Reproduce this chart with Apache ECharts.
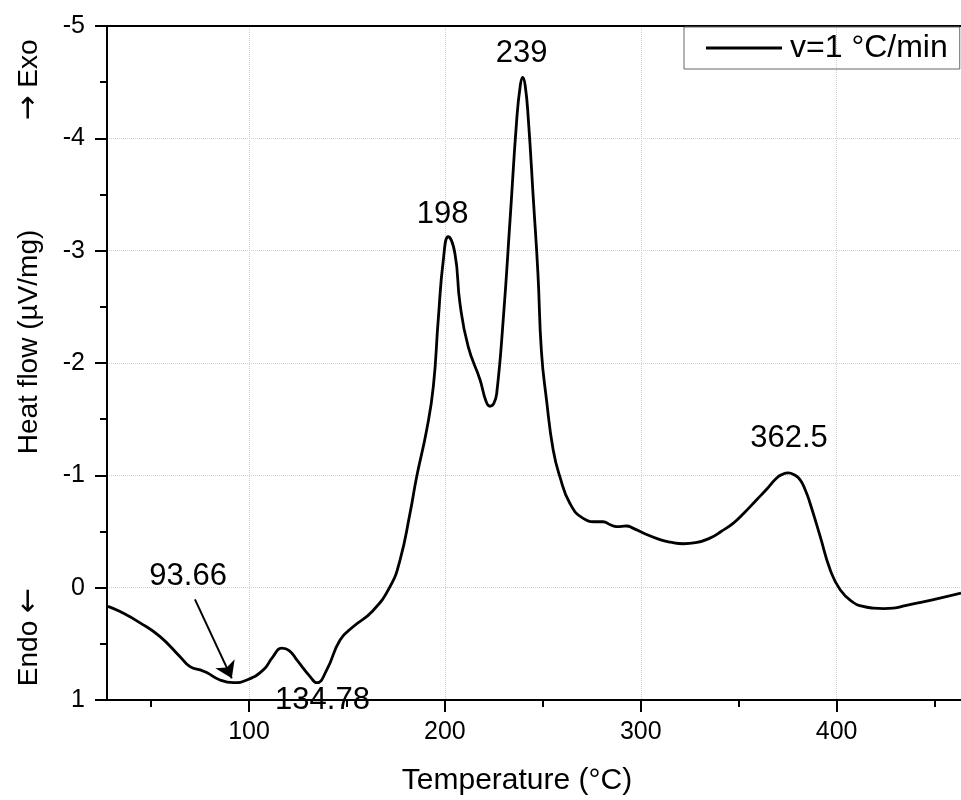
<!DOCTYPE html>
<html>
<head>
<meta charset="utf-8">
<script src="https://cdn.jsdelivr.net/npm/echarts@6.0.0/dist/echarts.min.js"></script>
<style>
  html, body { margin: 0; padding: 0; background: #fff; }
  #chart { width: 961px; height: 800px; }
</style>
</head>
<body>
<div id="chart"></div>
<script>
// DSC curve
const temperature = [
  28.0, 34.2, 44.4, 54.6, 64.8, 69.9, 75.0, 78.4, 85.2, 92.0,
  98.9, 107.3, 112.0, 116.7, 120.5, 124.4, 131.2, 134.6, 139.7, 146.5,
  153.3, 163.0, 172.0, 177.1, 182.2, 185.6, 190.7, 194.1, 196.6, 199.2,
  201.7, 205.1, 207.7, 211.9, 217.9, 221.0, 223.0, 225.0, 226.5, 229.8,
  233.3, 236.7, 238.5, 239.7, 241.0, 242.6, 245.2, 247.5, 249.3, 251.9,
  255.3, 258.7, 263.8, 270.6, 277.5, 280.8, 284.5, 287.7, 290.0, 292.8,
  296.0, 301.3, 309.8, 315.0, 321.7, 328.0, 335.3, 341.0, 347.3, 353.0,
  359.2, 364.5, 369.4, 372.5, 375.3, 378.3, 381.3, 384.0, 386.4, 391.6,
  396.7, 401.8, 408.5, 413.0, 418.7, 424.0, 429.0, 435.0, 440.9, 452.7,
  463.5
];
const heatFlow = [
  0.166, 0.213, 0.313, 0.436, 0.614, 0.703, 0.732, 0.756, 0.822, 0.846,
  0.822, 0.732, 0.62, 0.539, 0.56, 0.643, 0.792, 0.846, 0.732, 0.465,
  0.346, 0.21, -0.009, -0.246, -0.662, -0.988, -1.404, -1.789, -2.383, -2.917,
  -3.124, -2.977, -2.531, -2.145, -1.853, -1.66, -1.615, -1.64, -1.735, -2.388,
  -3.28, -4.171, -4.47, -4.543, -4.47, -4.171, -3.45, -2.8, -2.1, -1.67,
  -1.225, -0.988, -0.751, -0.617, -0.587, -0.587, -0.56, -0.543, -0.545, -0.549,
  -0.53, -0.486, -0.427, -0.405, -0.391, -0.40, -0.441, -0.5, -0.575, -0.67,
  -0.783, -0.88, -0.977, -1.01, -1.021, -1.005, -0.962, -0.87, -0.754, -0.457,
  -0.16, 0.018, 0.132, 0.165, 0.182, 0.186, 0.182, 0.16, 0.138, 0.093,
  0.048
];

const xTicks = [100, 200, 300, 400];
const xMinorTicks = [50, 150, 250, 350, 450];

// peak annotations (text anchor in data space)
const peakText = ['93.66', '134.78', '198', '239', '362.5'];
const peakTextT = [68.9, 137.5, 198.8, 239.2, 375.7];
const peakTextV = [-0.10, 1.0, -3.32, -4.76, -1.33];
const arrowFrom = [72.4, 0.104];
const arrowTo = [91.2, 0.807];

const seriesName = 'v=1 °C/min';
const font = "'Liberation Sans', Arial, sans-serif";

const chart = echarts.init(document.getElementById('chart'));

const curve = temperature.map((t, i) => [t, heatFlow[i]]);
const labels = peakText.map((s, i) => [peakTextT[i], peakTextV[i], s]);

const dotted = { show: true, lineStyle: { type: 'dotted', color: '#cfcfcf', width: 1 } };

// rotated y-axis texts, arrows taken from DejaVu so they are full size
function sideText(text, y) {
  return {
    type: 'text', x: 29, y: y, rotation: Math.PI / 2,
    style: {
      text: text, fontSize: 28, fontFamily: font, fill: '#000',
      textAlign: 'center', textVerticalAlign: 'middle',
      rich: { arr: { fontFamily: "'DejaVu Sans'", fontSize: 30, fill: '#000' } }
    }
  };
}

chart.setOption({
  animation: false,
  textStyle: { fontFamily: font, color: '#000' },
  grid: { left: 107, right: 0, top: 26, bottom: 100 },
  legend: {
    data: [{ name: seriesName, icon: 'rect' }],
    left: 684,
    top: 27,
    padding: [5, 12, 5, 22],
    itemWidth: 76,
    itemHeight: 3,
    borderColor: '#666',
    borderWidth: 1,
    textStyle: { fontSize: 32, lineHeight: 32, color: '#000', fontFamily: font, padding: [0, 0, 0, 3] }
  },
  xAxis: [
    {
      type: 'value',
      min: 27.5,
      max: 463.5,
      axisLine: { onZero: false, lineStyle: { color: '#000', width: 2 } },
      axisTick: { customValues: xTicks, length: 12, lineStyle: { color: '#000', width: 2 } },
      axisLabel: { customValues: xTicks, fontSize: 25, color: '#000', margin: 20, fontFamily: font },
      splitLine: dotted
    },
    {
      type: 'value',
      min: 27.5,
      max: 463.5,
      position: 'bottom',
      axisLine: { show: false, onZero: false },
      axisTick: { customValues: xMinorTicks, length: 7, lineStyle: { color: '#000', width: 2 } },
      axisLabel: { show: false },
      splitLine: { show: false }
    },
    {
      type: 'value',
      min: 27.5,
      max: 463.5,
      position: 'top',
      axisLine: { onZero: false, lineStyle: { color: '#000', width: 2 } },
      axisTick: { show: false },
      axisLabel: { show: false },
      splitLine: { show: false }
    }
  ],
  yAxis: {
    type: 'value',
    inverse: true,
    min: -5,
    max: 1,
    interval: 1,
    axisLine: { show: true, onZero: false, lineStyle: { color: '#000', width: 2 } },
    axisTick: { show: true, length: 12, lineStyle: { color: '#000', width: 2 } },
    minorTick: { show: true, splitNumber: 2, length: 7, lineStyle: { color: '#000', width: 2 } },
    axisLabel: { fontSize: 25, color: '#000', margin: 22, fontFamily: font },
    splitLine: dotted
  },
  graphic: [
    sideText('{arr|→} Exo', 80),
    sideText('Heat flow (µV/mg)', 342),
    sideText('Endo {arr|←}', 637),
    { type: 'text', x: 517, y: 781,
      style: { text: 'Temperature (°C)', fontSize: 30, fontFamily: font, fill: '#000', textAlign: 'center', textVerticalAlign: 'middle' } }
  ],
  series: [
    {
      name: seriesName,
      type: 'line',
      data: curve,
      symbol: 'none',
      smooth: 0.5,
      lineStyle: { color: '#000', width: 2.8 },
      itemStyle: { color: '#000' },
      z: 3
    },
    {
      name: 'peaks',
      type: 'scatter',
      data: labels,
      symbolSize: 1,
      itemStyle: { color: 'transparent', opacity: 1 },
      silent: true,
      z: 5,
      label: {
        show: true,
        position: 'inside',
        formatter: p => p.data[2],
        fontSize: 31,
        color: '#000',
        fontFamily: font
      },
      markLine: {
        silent: true,
        symbol: ['none', 'arrow'],
        symbolSize: 16,
        label: { show: false },
        lineStyle: { color: '#000', width: 2, type: 'solid', opacity: 1 },
        data: [[{ coord: arrowFrom }, { coord: arrowTo }]]
      }
    }
  ]
});
</script>
</body>
</html>
